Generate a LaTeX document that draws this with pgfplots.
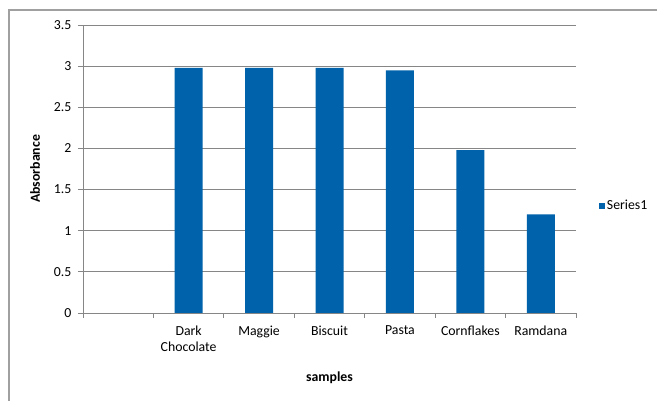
\documentclass[border=0pt]{standalone}
\usepackage{fontspec}
\setmainfont{Carlito}
\usepackage{pgfplots}
\pgfplotsset{compat=1.18}
\definecolor{barblue}{RGB}{0,98,170}
\definecolor{gridgray}{RGB}{134,134,134}
\definecolor{framegray}{RGB}{160,160,160}
\begin{document}
\begin{tikzpicture}[x=1pt,y=1pt]
\useasboundingbox (0,0) rectangle (657,401);
\draw[framegray, line width=1.2pt] (9,0) -- (9,391) -- (657,391);
\begin{axis}[
  at={(83pt,88pt)}, anchor=south west,
  scale only axis, width=493pt, height=288pt,
  font=\fontsize{13.8}{16}\selectfont,
  /pgf/number format/assume math mode=true,
  ybar, bar width=28pt,
  xmin=-0.5, xmax=6.5, ymin=0, ymax=3.5,
  ytick={0,0.5,...,3.5},
  yticklabel style={/pgf/number format/fixed, xshift=-3pt},
  xtick={0,1,2,3,4,5,6},
  xticklabels={{},{Dark\\Chocolate},{Maggie},{Biscuit},{Pasta},{Cornflakes},{Ramdana}},
  xticklabel style={align=center, anchor=north, yshift=-4pt},
  major x tick style={draw=none},
  minor xtick={-0.5,0.5,...,6.5},
  minor x tick style={gridgray, line width=0.8pt},
  minor tick length=5pt,
  major tick length=5pt,
  tick align=outside,
  ytick style={gridgray, line width=0.8pt},
  axis x line*=bottom, axis y line*=left,
  axis line style={gridgray, line width=0.8pt},
  ymajorgrids, grid style={gridgray, line width=0.8pt},
  xlabel={\bfseries samples}, ylabel={\bfseries Absorbance},
  xlabel style={at={(axis description cs:0.5,-0.2257)}, anchor=center},
  ylabel style={at={(axis description cs:-0.0974,0.5)}, anchor=center},
  legend style={at={(axis description cs:1.04,0.372)}, anchor=west, draw=none, fill=none, font=\fontsize{13.8}{16}\selectfont},
  legend image code/.code={\fill[barblue] (0pt,-3pt) rectangle (6pt,3pt);},
  clip=false,
]
\addplot[fill=barblue, draw=none] coordinates {(1,2.98) (2,2.98) (3,2.98) (4,2.95) (5,1.98) (6,1.20)};
\addlegendentry{Series1}
\end{axis}
\end{tikzpicture}
\end{document}
